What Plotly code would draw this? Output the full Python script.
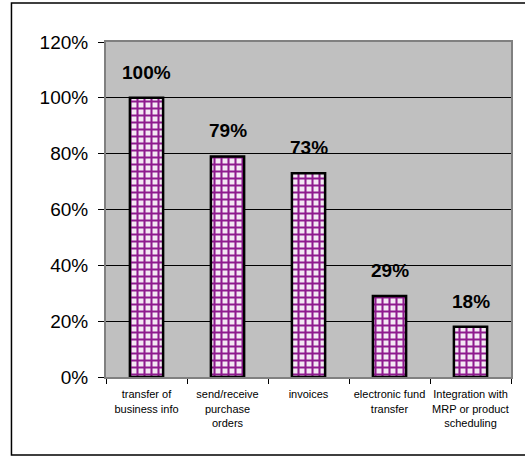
import plotly.graph_objects as go

categories = ["transfer of<br>business info", "send/receive<br>purchase<br>orders", "invoices",
              "electronic fund<br>transfer", "Integration with<br>MRP or product<br>scheduling"]
values = [1.00, 0.79, 0.73, 0.29, 0.18]
labels = ["100%", "79%", "73%", "29%", "18%"]
y_ticks = [0, 0.2, 0.4, 0.6, 0.8, 1.0, 1.2]
y_ticklabels = ["0%", "20%", "40%", "60%", "80%", "100%", "120%"]

W, H = 525, 457
ml, mr, mt, mb = 106, 12, 42, 80
pw, ph = W - ml - mr, H - mt - mb

fig = go.Figure()
fig.add_trace(go.Bar(
    x=categories, y=values,
    marker=dict(color="white",
                line=dict(color="black", width=2.5),
                pattern=dict(shape="+", fgcolor="#8E1A8E", bgcolor="#F4E8F4", size=7,
                             solidity=0.5, fgopacity=1)),
    width=0.41,
))
for c, v, t in zip(categories, values, labels):
    fig.add_annotation(x=c, y=v, text="<b>" + t + "</b>", showarrow=False,
                       yanchor="bottom", yshift=13,
                       font=dict(family="Liberation Sans, Arial", size=19, color="black"))

# outer border
fig.add_shape(type="rect", xref="paper", yref="paper",
              x0=(11 - ml) / pw, x1=(530 - ml) / pw,
              y0=-(455 - mt - ph) / ph, y1=(mt - 3 + ph) / ph,
              line=dict(color="black", width=1.5), fillcolor="rgba(0,0,0,0)", layer="below")

fig.update_layout(
    width=W, height=H,
    margin=dict(l=ml, r=mr, t=mt, b=mb),
    paper_bgcolor="white", plot_bgcolor="#C0C0C0",
    showlegend=False,
    font=dict(family="Liberation Sans, Arial", color="black"),
    xaxis=dict(tickson="boundaries", ticks="outside", ticklen=5, tickcolor="black",
               tickfont=dict(size=11), showgrid=False, showline=True, linecolor="#808080",
               linewidth=2, mirror=True, tickangle=0, ticklabelstandoff=6),
    yaxis=dict(range=[0, 1.2], tickvals=y_ticks, ticktext=y_ticklabels,
               ticks="outside", ticklen=6, tickcolor="black", tickfont=dict(size=19),
               showgrid=True, gridcolor="black", gridwidth=1, zeroline=False,
               showline=True, linecolor="#808080", linewidth=2, mirror=True,
               ticklabelstandoff=6),
)
fig.write_html("out.html")
